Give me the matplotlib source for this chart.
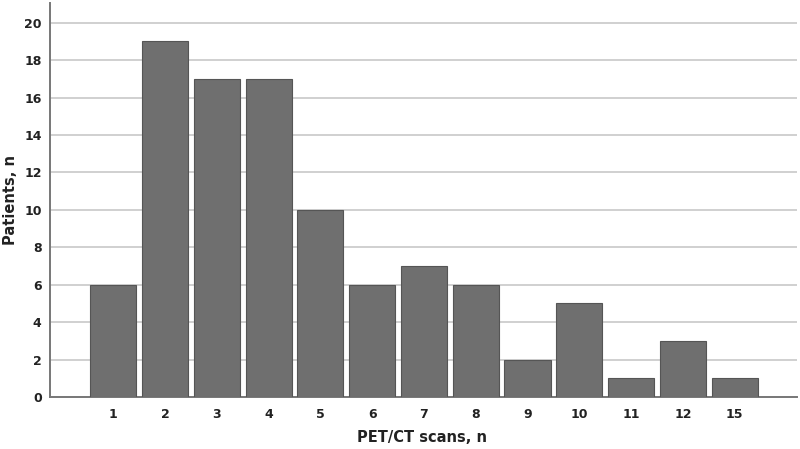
import matplotlib
matplotlib.use("Agg")
import matplotlib.pyplot as plt
import numpy as np

categories = ["1", "2", "3", "4", "5", "6", "7", "8", "9", "10", "11", "12", "15"]
patients = [6, 19, 17, 17, 10, 6, 7, 6, 2, 5, 1, 3, 1]

fig = plt.figure(figsize=(8, 4.49), dpi=100)
ax = fig.add_axes([0.0625, 0.1158, 0.9335, 0.8775])

x = np.arange(len(categories))
ax.bar(x, patients, width=0.89, color="#6f6f6f", edgecolor="#555555", linewidth=0.8, zorder=3)

ax.set_xlim(-1.22, len(categories) - 1 + 1.2)
ax.set_ylim(0, 21.05)
ax.set_yticks(np.arange(0, 21, 2))
ax.set_xticks(x)
ax.set_xticklabels(categories)
ax.yaxis.grid(True, color="#c8c8c8", linewidth=1.2, zorder=0)
ax.tick_params(axis="both", length=0, labelsize=9)
ax.tick_params(axis="x", pad=8)
ax.tick_params(axis="y", pad=6)
for lab in ax.get_xticklabels() + ax.get_yticklabels():
    lab.set_fontweight("bold")
    lab.set_color("#222222")

for s in ["top", "right"]:
    ax.spines[s].set_visible(False)
for s in ["left", "bottom"]:
    ax.spines[s].set_color("#777777")
    ax.spines[s].set_linewidth(1.4)

fig.text(0.528, 1 - 437 / 449, "PET/CT scans, n", fontsize=10.5, fontweight="bold",
         color="#222222", ha="center", va="center")
fig.text(11 / 800, 1 - 200 / 449, "Patients, n", fontsize=10.5, fontweight="bold",
         color="#222222", ha="center", va="center", rotation=90)

fig.savefig("out.png", dpi=100)
